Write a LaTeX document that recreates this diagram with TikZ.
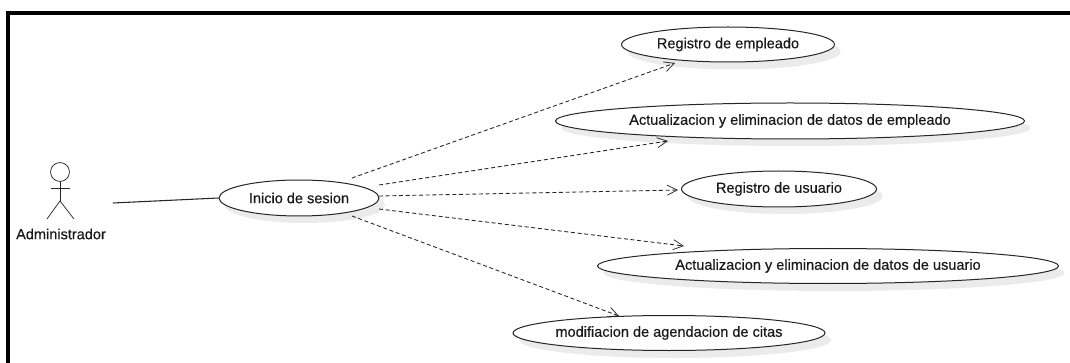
\documentclass[tikz,border=0pt]{standalone}
\usepackage{fontspec}
\setmainfont{Liberation Sans}
\usetikzlibrary{arrows.meta,shapes.geometric}
\newcommand{\labelfont}{\fontsize{10.9}{12}\selectfont\addfontfeature{FakeBold=0.4}}
\tikzset{
  uc/.style n args={2}{ellipse,draw=black!85,line width=0.75pt,fill=white,minimum width=#1*0.75pt,minimum height=#2*0.75pt,inner xsep=-60pt,inner ysep=-6pt,font=\labelfont,text=black!90},
  ucshadow/.style={fill=black!8,draw=none},
  dep/.style={dash pattern=on 3pt off 2pt,line width=0.65pt,draw=black!85,-{Straight Barb[length=7.5pt,width=7.5pt,line width=0.55pt]}},
  assoc/.style={line width=0.8pt,draw=black!85},
  actorline/.style={line width=0.55pt,draw=black!85},
  frame/.style={line width=2.4pt,draw=black}
}
\begin{document}
\begin{tikzpicture}[x=0.75pt,y=-0.75pt]
\useasboundingbox (0,0) rectangle (1070,363);
\fill[white] (0,0) rectangle (1070,363);
% frame
\coordinate (fb) at (8,363);
\coordinate (fc) at (8,13);
\coordinate (fr) at (1070,13);
\draw[frame] (fb) -- (fc) -- (fr);
% shadows
\foreach \cx/\cy/\rx in {728/44.5/106.5, 790/121/234.5, 779/189/97.5, 828/266/230.5, 669/333/156, 299/198/80}{
  \fill[ucshadow] (\cx+6,\cy+7) ellipse [x radius=\rx*0.75pt,y radius=13.5pt];
}
% use cases
\node[uc={160}{36}] (inicio) at (299,198) {Inicio de sesion};
\node[uc={213}{35}] (reg) at (728,44.5) {Registro de empleado};
\node[uc={469}{36}] (actemp) at (790,121) {Actualizacion y eliminacion de datos de empleado};
\node[uc={195}{36}] (regus) at (779,189) {Registro de usuario};
\node[uc={461}{35}] (actus) at (828,266) {Actualizacion y eliminacion de datos de usuario};
\node[uc={312}{35}] (mod) at (669,333) {modifiacion de agendacion de citas};
% actor
\node[circle,draw=black!85,line width=0.55pt,minimum size=14.2pt,inner sep=0pt,fill=white] (head) at (60,172) {};
\coordinate (hip) at (60,201);
\coordinate (armL) at (51,188.5);
\coordinate (armR) at (70,188.5);
\coordinate (footL) at (47,219);
\coordinate (footR) at (74,219);
\draw[actorline] (head.south) -- (hip);
\draw[actorline] (armL) -- (armR);
\draw[actorline] (footL) -- (hip) -- (footR);
\node[font=\labelfont,text=black!90] (admin) at (61,234) {Administrador};
% connectors
\coordinate (actorend) at (113,203);
\draw[assoc] (actorend) -- (inicio.west);
\draw[dep] ([shift={(53,-20)}]inicio.center) -- ([shift={(-53,18.5)}]reg.center);
\draw[dep] ([shift={(80,-13)}]inicio.center) -- ([shift={(-122,20)}]actemp.center);
\draw[dep] ([shift={(80,-2)}]inicio.center) -- ([shift={(-101,1)}]regus.center);
\draw[dep] ([shift={(80,11)}]inicio.center) -- ([shift={(-144,-20)}]actus.center);
\draw[dep] ([shift={(53,18)}]inicio.center) -- ([shift={(-50,-17)}]mod.center);
\end{tikzpicture}
\end{document}
